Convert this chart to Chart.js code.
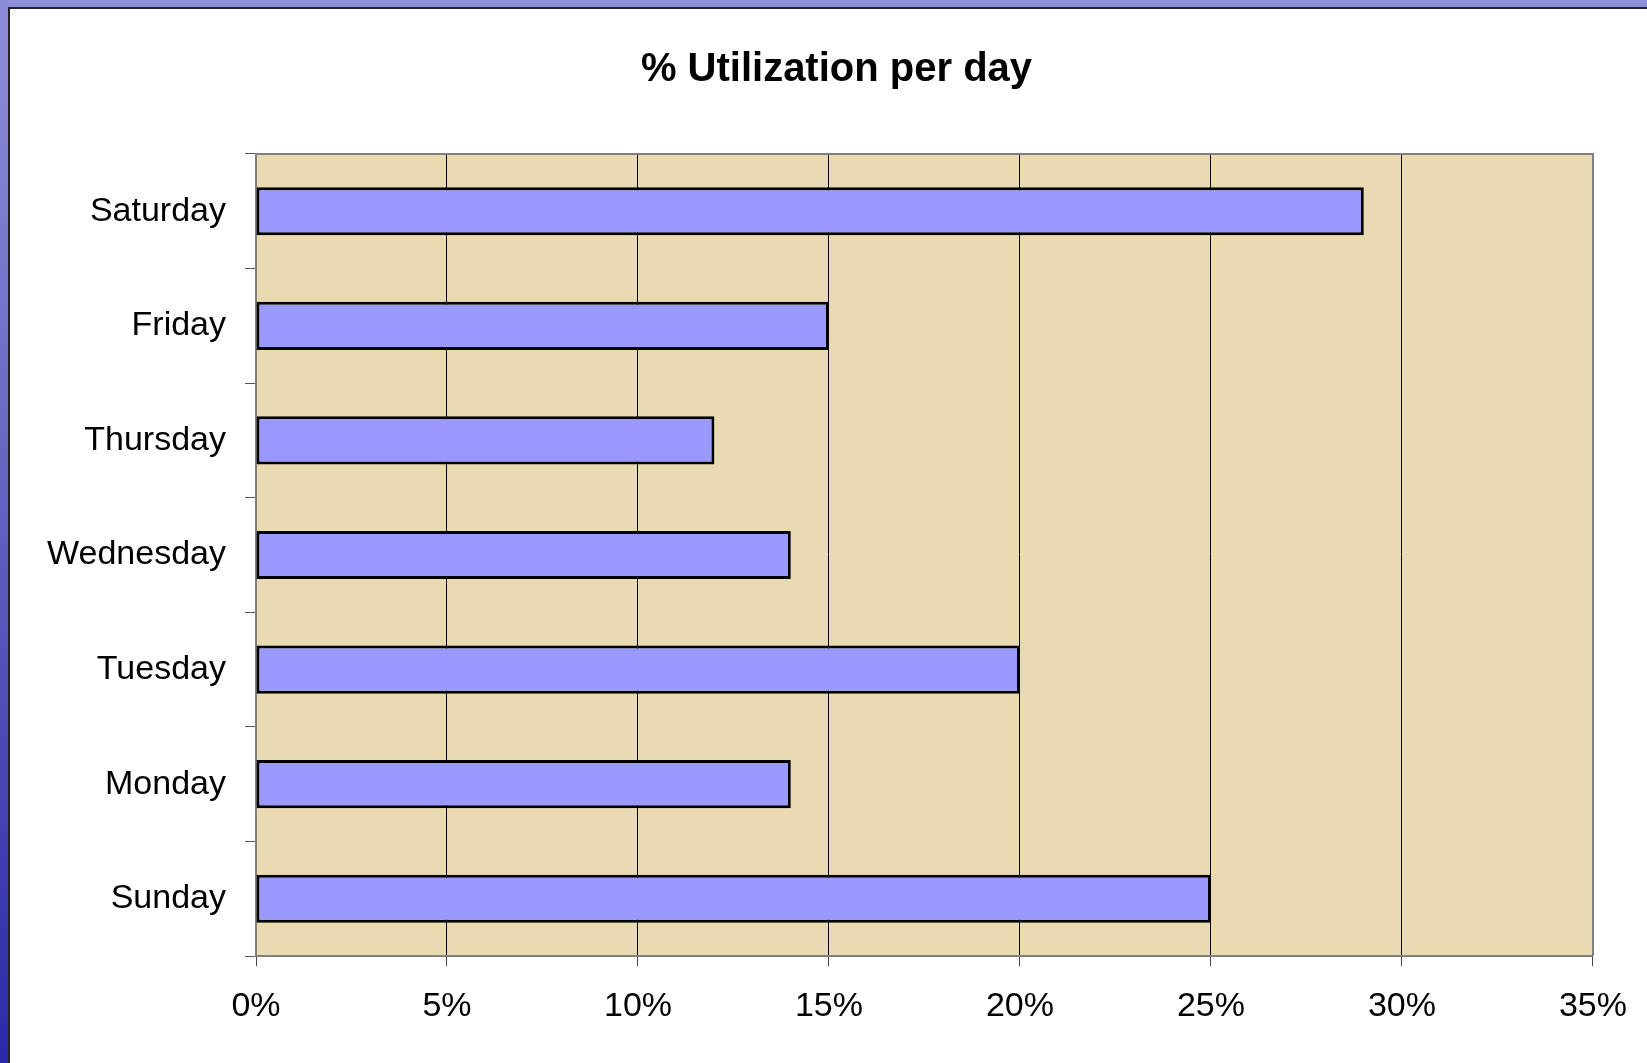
<!DOCTYPE html>
<html>
<head>
<meta charset="utf-8">
<script src="https://cdn.jsdelivr.net/npm/chart.js@4.4.1/dist/chart.umd.min.js"></script>
<style>
  html, body { margin: 0; padding: 0; width: 1647px; height: 1063px; overflow: hidden; }
  body { background: linear-gradient(to bottom, #8e8ed8 0%, #6a6ac4 40%, #2a2aa8 100%); position: relative; }
  #panel { position: absolute; left: 8px; top: 7px; right: 0; bottom: 0; background: #fff;
           border-left: 2px solid #222; border-top: 2px solid #222; }
  #chart { position: absolute; left: 0; top: 0; }
</style>
</head>
<body>
<div id="panel"></div>
<canvas id="chart" width="1647" height="1063"></canvas>
<script>
// dados (de baixo para cima)
const dias = ['Sunday', 'Monday', 'Tuesday', 'Wednesday', 'Thursday', 'Friday', 'Saturday'];
const utilizacao = [25, 14, 20, 14, 12, 15, 29];
const ticksX = [0, 5, 10, 15, 20, 25, 30, 35];
const titulo = '% Utilization per day';

const FONTE = "'Liberation Sans', Arial, sans-serif";

// fundo bege da área do gráfico + moldura cinza + título
// (título desenhado à mão: no original ele não fica centrado no canvas)
const fundoPlot = {
  id: 'fundoPlot',
  beforeDraw(chart) {
    const { ctx, chartArea: a } = chart;
    ctx.save();
    ctx.fillStyle = '#eadab2';
    ctx.fillRect(a.left, a.top, a.right - a.left, a.bottom - a.top);
    ctx.restore();
  },
  afterDraw(chart) {
    const { ctx, chartArea: a } = chart;
    ctx.save();
    ctx.strokeStyle = '#808080';
    ctx.lineWidth = 2;
    ctx.beginPath();
    ctx.moveTo(a.left, a.top);
    ctx.lineTo(a.right, a.top);
    ctx.lineTo(a.right, a.bottom);
    ctx.stroke();

    ctx.fillStyle = '#000';
    ctx.font = `bold 40px ${FONTE}`;
    ctx.textAlign = 'center';
    ctx.textBaseline = 'middle';
    ctx.fillText(titulo, (80 + a.right) / 2, 70);
    ctx.restore();
  }
};

new Chart(document.getElementById('chart').getContext('2d'), {
  type: 'bar',
  data: {
    labels: dias,
    datasets: [{
      data: utilizacao,
      backgroundColor: '#9999ff',
      borderColor: '#000',
      borderWidth: 3,
      borderSkipped: false,
      barPercentage: 0.42,
      categoryPercentage: 1.0
    }]
  },
  options: {
    indexAxis: 'y',
    responsive: false,
    animation: false,
    devicePixelRatio: 1,
    layout: { padding: { top: 154, left: 0, right: 54, bottom: 0 } },
    plugins: {
      legend: { display: false },
      tooltip: { enabled: false },
      title: { display: false }
    },
    scales: {
      x: {
        type: 'linear',
        min: 0,
        max: 35,
        afterBuildTicks: (s) => { s.ticks = ticksX.map(v => ({ value: v })); },
        afterFit: (s) => { s.height = 107; },
        ticks: {
          color: '#000',
          font: { family: FONTE, size: 34 },
          padding: 20,
          callback: (v) => v + '%'
        },
        grid: { color: '#000', lineWidth: 1, tickLength: 10, tickColor: '#444' },
        border: { color: '#808080', width: 2 }
      },
      y: {
        reverse: true,
        afterFit: (s) => { s.width = 256; },
        ticks: {
          color: '#000',
          font: { family: FONTE, size: 34 },
          padding: 19
        },
        grid: { drawOnChartArea: false, tickLength: 11, color: '#555', offset: true },
        border: { color: '#808080', width: 2 }
      }
    }
  },
  plugins: [fundoPlot]
});
</script>
</body>
</html>
